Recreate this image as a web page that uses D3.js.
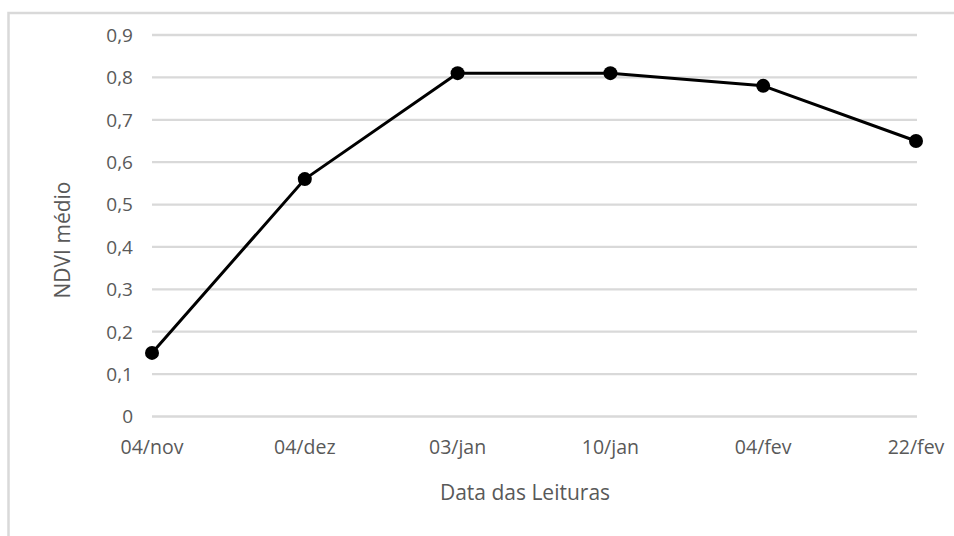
<!DOCTYPE html>
<html><head><meta charset="utf-8">
<script src="https://cdn.jsdelivr.net/npm/d3@7"></script>
<style>body{margin:0;background:#fff}svg{display:block}</style>
</head><body>
<svg id="c" width="954" height="536"></svg>
<script>
const categories = ["04/nov","04/dez","03/jan","10/jan","04/fev","22/fev"];
const ndvi = [0.15, 0.56, 0.81, 0.81, 0.78, 0.65];
const yTicks = [0,0.1,0.2,0.3,0.4,0.5,0.6,0.7,0.8,0.9];

const svg = d3.select("#c");
const font = "'Open Sans', 'Noto Sans', sans-serif";
const txt = "#595959";

// outer chart border
svg.append("rect").attr("x",8.5).attr("y",13).attr("width",960).attr("height",540)
  .attr("fill","none").attr("stroke","#d9d9d9").attr("stroke-width",2.5);

const x = d3.scalePoint().domain(categories).range([152,916]);
const y = d3.scaleLinear().domain([0,0.9]).range([416.5,35]);
const fmt = d => d3.format(".1f")(d).replace(".",",");

// gridlines
svg.append("g").selectAll("line").data(yTicks).join("line")
  .attr("x1",152).attr("x2",917)
  .attr("y1",d=>y(d)).attr("y2",d=>y(d))
  .attr("stroke","#d9d9d9").attr("stroke-width",2.3);

// y tick labels
svg.append("g").selectAll("text").data(yTicks).join("text")
  .attr("x",133).attr("y",d=>y(d)).attr("dy","0.36em")
  .attr("text-anchor","end").attr("font-family",font).attr("font-size",19)
  .attr("fill",txt).text(d=> d===0 ? "0" : fmt(d));

// x tick labels
svg.append("g").selectAll("text").data(categories).join("text")
  .attr("x",d=>x(d)).attr("y",447).attr("dy","0.36em")
  .attr("text-anchor","middle").attr("font-family",font).attr("font-size",19.5)
  .attr("fill",txt).text(d=>d);

// axis titles
svg.append("text").attr("x",525).attr("y",492).attr("dy","0.36em")
  .attr("text-anchor","middle").attr("font-family",font).attr("font-size",21)
  .attr("fill",txt).text("Data das Leituras");
svg.append("text").attr("transform","translate(62,240) rotate(-90)").attr("dy","0.36em")
  .attr("text-anchor","middle").attr("font-family",font).attr("font-size",21)
  .attr("fill",txt).text("NDVI médio");

// line
const line = d3.line().x((d,i)=>x(categories[i])).y(d=>y(d));
svg.append("path").datum(ndvi).attr("d",line)
  .attr("fill","none").attr("stroke","#000").attr("stroke-width",3).attr("stroke-linejoin","round");

svg.append("g").selectAll("circle").data(ndvi).join("circle")
  .attr("cx",(d,i)=>x(categories[i])).attr("cy",d=>y(d)).attr("r",7).attr("fill","#000");
</script>
</body></html>
